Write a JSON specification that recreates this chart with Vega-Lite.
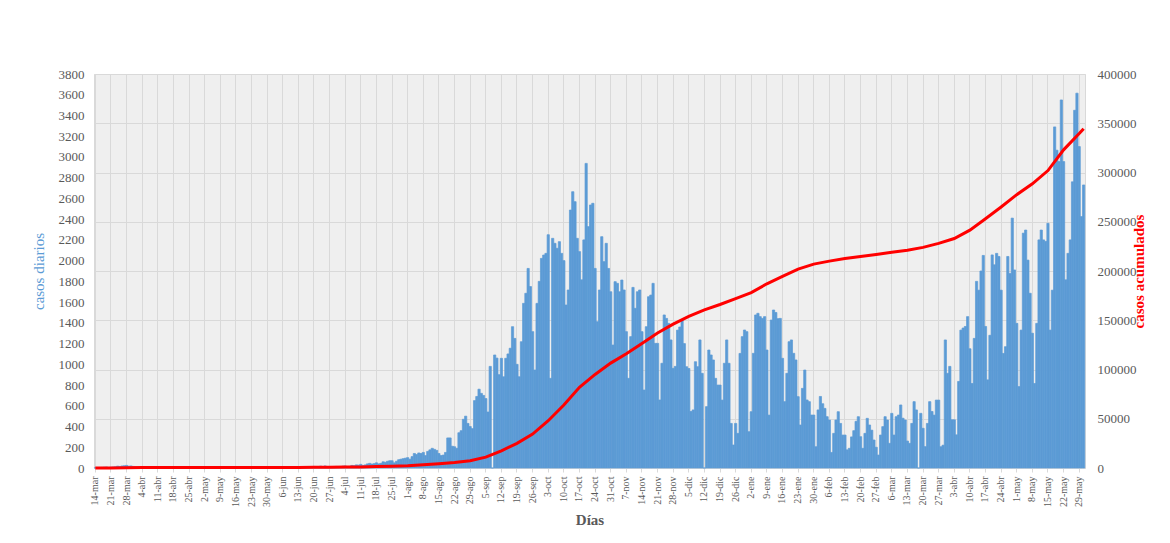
{
  "$schema": "https://vega.github.io/schema/vega-lite/v6.json",
  "width": 991,
  "height": 394,
  "autosize": {"type": "none"},
  "padding": {"left": 94, "top": 74, "right": 85, "bottom": 75},
  "background": "white",
  "config": {
    "view": {"fill": "#efefef", "stroke": "#d9d9d9", "strokeWidth": 1},
    "font": "Liberation Serif",
    "axis": {"labelFont": "Liberation Serif", "titleFont": "Liberation Serif", "labelColor": "#595959"}
  },
  "datasets": {
    "diarios": [
      {"fecha":"2020-03-14","casos":2},{"fecha":"2020-03-15","casos":3},{"fecha":"2020-03-16","casos":5},{"fecha":"2020-03-17","casos":6},{"fecha":"2020-03-18","casos":8},{"fecha":"2020-03-19","casos":10},{"fecha":"2020-03-20","casos":5},{"fecha":"2020-03-21","casos":8},{"fecha":"2020-03-22","casos":10},{"fecha":"2020-03-23","casos":12},{"fecha":"2020-03-24","casos":18},{"fecha":"2020-03-25","casos":15},{"fecha":"2020-03-26","casos":20},{"fecha":"2020-03-27","casos":22},{"fecha":"2020-03-28","casos":25},{"fecha":"2020-03-29","casos":18},{"fecha":"2020-03-30","casos":20},{"fecha":"2020-03-31","casos":15},
      {"fecha":"2020-04-01","casos":12},{"fecha":"2020-04-02","casos":10},{"fecha":"2020-04-03","casos":8},{"fecha":"2020-04-04","casos":6},{"fecha":"2020-04-05","casos":5},{"fecha":"2020-04-06","casos":8},{"fecha":"2020-04-07","casos":4},{"fecha":"2020-04-08","casos":5},{"fecha":"2020-04-09","casos":3},{"fecha":"2020-04-10","casos":4},{"fecha":"2020-04-11","casos":3},{"fecha":"2020-04-12","casos":2},{"fecha":"2020-04-13","casos":4},{"fecha":"2020-04-14","casos":3},{"fecha":"2020-04-15","casos":2},{"fecha":"2020-04-16","casos":1},{"fecha":"2020-04-17","casos":2},{"fecha":"2020-04-18","casos":1},{"fecha":"2020-04-19","casos":2},{"fecha":"2020-04-20","casos":1},{"fecha":"2020-04-21","casos":3},{"fecha":"2020-04-22","casos":2},{"fecha":"2020-04-23","casos":1},{"fecha":"2020-04-24","casos":1},{"fecha":"2020-04-25","casos":1},{"fecha":"2020-04-26","casos":0},{"fecha":"2020-04-27","casos":2},{"fecha":"2020-04-28","casos":1},{"fecha":"2020-04-29","casos":1},{"fecha":"2020-04-30","casos":0},
      {"fecha":"2020-05-01","casos":1},{"fecha":"2020-05-02","casos":0},{"fecha":"2020-05-03","casos":1},{"fecha":"2020-05-04","casos":1},{"fecha":"2020-05-05","casos":0},{"fecha":"2020-05-06","casos":2},{"fecha":"2020-05-07","casos":1},{"fecha":"2020-05-08","casos":0},{"fecha":"2020-05-09","casos":1},{"fecha":"2020-05-10","casos":0},{"fecha":"2020-05-11","casos":0},{"fecha":"2020-05-12","casos":1},{"fecha":"2020-05-13","casos":1},{"fecha":"2020-05-14","casos":2},{"fecha":"2020-05-15","casos":1},{"fecha":"2020-05-16","casos":1},{"fecha":"2020-05-17","casos":0},{"fecha":"2020-05-18","casos":1},{"fecha":"2020-05-19","casos":2},{"fecha":"2020-05-20","casos":1},{"fecha":"2020-05-21","casos":0},{"fecha":"2020-05-22","casos":1},{"fecha":"2020-05-23","casos":2},{"fecha":"2020-05-24","casos":1},{"fecha":"2020-05-25","casos":0},{"fecha":"2020-05-26","casos":1},{"fecha":"2020-05-27","casos":3},{"fecha":"2020-05-28","casos":2},{"fecha":"2020-05-29","casos":1},{"fecha":"2020-05-30","casos":1},{"fecha":"2020-05-31","casos":2},
      {"fecha":"2020-06-01","casos":3},{"fecha":"2020-06-02","casos":1},{"fecha":"2020-06-03","casos":2},{"fecha":"2020-06-04","casos":4},{"fecha":"2020-06-05","casos":3},{"fecha":"2020-06-06","casos":3},{"fecha":"2020-06-07","casos":2},{"fecha":"2020-06-08","casos":5},{"fecha":"2020-06-09","casos":4},{"fecha":"2020-06-10","casos":6},{"fecha":"2020-06-11","casos":5},{"fecha":"2020-06-12","casos":4},{"fecha":"2020-06-13","casos":6},{"fecha":"2020-06-14","casos":4},{"fecha":"2020-06-15","casos":8},{"fecha":"2020-06-16","casos":10},{"fecha":"2020-06-17","casos":7},{"fecha":"2020-06-18","casos":9},{"fecha":"2020-06-19","casos":12},{"fecha":"2020-06-20","casos":15},{"fecha":"2020-06-21","casos":10},{"fecha":"2020-06-22","casos":8},{"fecha":"2020-06-23","casos":18},{"fecha":"2020-06-24","casos":12},{"fecha":"2020-06-25","casos":20},{"fecha":"2020-06-26","casos":14},{"fecha":"2020-06-27","casos":10},{"fecha":"2020-06-28","casos":8},{"fecha":"2020-06-29","casos":12},{"fecha":"2020-06-30","casos":15},
      {"fecha":"2020-07-01","casos":10},{"fecha":"2020-07-02","casos":14},{"fecha":"2020-07-03","casos":18},{"fecha":"2020-07-04","casos":20},{"fecha":"2020-07-05","casos":12},{"fecha":"2020-07-06","casos":15},{"fecha":"2020-07-07","casos":25},{"fecha":"2020-07-08","casos":22},{"fecha":"2020-07-09","casos":30},{"fecha":"2020-07-10","casos":28},{"fecha":"2020-07-11","casos":35},{"fecha":"2020-07-12","casos":25},{"fecha":"2020-07-13","casos":30},{"fecha":"2020-07-14","casos":40},{"fecha":"2020-07-15","casos":45},{"fecha":"2020-07-16","casos":38},{"fecha":"2020-07-17","casos":42},{"fecha":"2020-07-18","casos":50},{"fecha":"2020-07-19","casos":40},{"fecha":"2020-07-20","casos":45},{"fecha":"2020-07-21","casos":60},{"fecha":"2020-07-22","casos":55},{"fecha":"2020-07-23","casos":65},{"fecha":"2020-07-24","casos":70},{"fecha":"2020-07-25","casos":70},{"fecha":"2020-07-26","casos":50},{"fecha":"2020-07-27","casos":65},{"fecha":"2020-07-28","casos":80},{"fecha":"2020-07-29","casos":85},{"fecha":"2020-07-30","casos":90},{"fecha":"2020-07-31","casos":95},
      {"fecha":"2020-08-01","casos":100},{"fecha":"2020-08-02","casos":85},{"fecha":"2020-08-03","casos":110},{"fecha":"2020-08-04","casos":140},{"fecha":"2020-08-05","casos":130},{"fecha":"2020-08-06","casos":145},{"fecha":"2020-08-07","casos":140},{"fecha":"2020-08-08","casos":150},{"fecha":"2020-08-09","casos":120},{"fecha":"2020-08-10","casos":160},{"fecha":"2020-08-11","casos":175},{"fecha":"2020-08-12","casos":190},{"fecha":"2020-08-13","casos":180},{"fecha":"2020-08-14","casos":170},{"fecha":"2020-08-15","casos":140},{"fecha":"2020-08-16","casos":120},{"fecha":"2020-08-17","casos":125},{"fecha":"2020-08-18","casos":150},{"fecha":"2020-08-19","casos":290},{"fecha":"2020-08-20","casos":290},{"fecha":"2020-08-21","casos":210},{"fecha":"2020-08-22","casos":205},{"fecha":"2020-08-23","casos":190},{"fecha":"2020-08-24","casos":340},{"fecha":"2020-08-25","casos":360},{"fecha":"2020-08-26","casos":470},{"fecha":"2020-08-27","casos":500},{"fecha":"2020-08-28","casos":430},{"fecha":"2020-08-29","casos":400},{"fecha":"2020-08-30","casos":380},{"fecha":"2020-08-31","casos":650},
      {"fecha":"2020-09-01","casos":690},{"fecha":"2020-09-02","casos":760},{"fecha":"2020-09-03","casos":720},{"fecha":"2020-09-04","casos":700},{"fecha":"2020-09-05","casos":670},{"fecha":"2020-09-06","casos":540},{"fecha":"2020-09-07","casos":980},{"fecha":"2020-09-08","casos":0},{"fecha":"2020-09-09","casos":1090},{"fecha":"2020-09-10","casos":1060},{"fecha":"2020-09-11","casos":900},{"fecha":"2020-09-12","casos":1058},{"fecha":"2020-09-13","casos":880},{"fecha":"2020-09-14","casos":1058},{"fecha":"2020-09-15","casos":1100},{"fecha":"2020-09-16","casos":1155},{"fecha":"2020-09-17","casos":1363},{"fecha":"2020-09-18","casos":1250},{"fecha":"2020-09-19","casos":1000},{"fecha":"2020-09-20","casos":880},{"fecha":"2020-09-21","casos":1218},{"fecha":"2020-09-22","casos":1588},{"fecha":"2020-09-23","casos":1685},{"fecha":"2020-09-24","casos":1925},{"fecha":"2020-09-25","casos":1750},{"fecha":"2020-09-26","casos":1315},{"fecha":"2020-09-27","casos":945},{"fecha":"2020-09-28","casos":1588},{"fecha":"2020-09-29","casos":1800},{"fecha":"2020-09-30","casos":2022},
      {"fecha":"2020-10-01","casos":2054},{"fecha":"2020-10-02","casos":2070},{"fecha":"2020-10-03","casos":2250},{"fecha":"2020-10-04","casos":865},{"fecha":"2020-10-05","casos":2215},{"fecha":"2020-10-06","casos":2167},{"fecha":"2020-10-07","casos":2119},{"fecha":"2020-10-08","casos":2183},{"fecha":"2020-10-09","casos":2070},{"fecha":"2020-10-10","casos":2000},{"fecha":"2020-10-11","casos":1572},{"fecha":"2020-10-12","casos":1717},{"fecha":"2020-10-13","casos":2488},{"fecha":"2020-10-14","casos":2665},{"fecha":"2020-10-15","casos":2569},{"fecha":"2020-10-16","casos":2215},{"fecha":"2020-10-17","casos":2087},{"fecha":"2020-10-18","casos":1815},{"fecha":"2020-10-19","casos":2200},{"fecha":"2020-10-20","casos":2938},{"fecha":"2020-10-21","casos":2328},{"fecha":"2020-10-22","casos":2537},{"fecha":"2020-10-23","casos":2553},{"fecha":"2020-10-24","casos":1925},{"fecha":"2020-10-25","casos":1411},{"fecha":"2020-10-26","casos":1717},{"fecha":"2020-10-27","casos":2231},{"fecha":"2020-10-28","casos":1990},{"fecha":"2020-10-29","casos":2167},{"fecha":"2020-10-30","casos":1925},{"fecha":"2020-10-31","casos":1700},
      {"fecha":"2020-11-01","casos":1186},{"fecha":"2020-11-02","casos":1797},{"fecha":"2020-11-03","casos":1781},{"fecha":"2020-11-04","casos":1700},{"fecha":"2020-11-05","casos":1813},{"fecha":"2020-11-06","casos":1717},{"fecha":"2020-11-07","casos":1315},{"fecha":"2020-11-08","casos":865},{"fecha":"2020-11-09","casos":1267},{"fecha":"2020-11-10","casos":1742},{"fecha":"2020-11-11","casos":1540},{"fecha":"2020-11-12","casos":1700},{"fecha":"2020-11-13","casos":1717},{"fecha":"2020-11-14","casos":1315},{"fecha":"2020-11-15","casos":752},{"fecha":"2020-11-16","casos":1363},{"fecha":"2020-11-17","casos":1652},{"fecha":"2020-11-18","casos":1668},{"fecha":"2020-11-19","casos":1781},{"fecha":"2020-11-20","casos":1202},{"fecha":"2020-11-21","casos":1202},{"fecha":"2020-11-22","casos":656},{"fecha":"2020-11-23","casos":1010},{"fecha":"2020-11-24","casos":1476},{"fecha":"2020-11-25","casos":1443},{"fecha":"2020-11-26","casos":1395},{"fecha":"2020-11-27","casos":1235},{"fecha":"2020-11-28","casos":961},{"fecha":"2020-11-29","casos":980},{"fecha":"2020-11-30","casos":1330},
      {"fecha":"2020-12-01","casos":1360},{"fecha":"2020-12-02","casos":1425},{"fecha":"2020-12-03","casos":1200},{"fecha":"2020-12-04","casos":977},{"fecha":"2020-12-05","casos":960},{"fecha":"2020-12-06","casos":545},{"fecha":"2020-12-07","casos":560},{"fecha":"2020-12-08","casos":1025},{"fecha":"2020-12-09","casos":977},{"fecha":"2020-12-10","casos":1235},{"fecha":"2020-12-11","casos":913},{"fecha":"2020-12-12","casos":0},{"fecha":"2020-12-13","casos":592},{"fecha":"2020-12-14","casos":1138},{"fecha":"2020-12-15","casos":1090},{"fecha":"2020-12-16","casos":1042},{"fecha":"2020-12-17","casos":865},{"fecha":"2020-12-18","casos":800},{"fecha":"2020-12-19","casos":800},{"fecha":"2020-12-20","casos":655},{"fecha":"2020-12-21","casos":1010},{"fecha":"2020-12-22","casos":1235},{"fecha":"2020-12-23","casos":1010},{"fecha":"2020-12-24","casos":430},{"fecha":"2020-12-25","casos":222},{"fecha":"2020-12-26","casos":430},{"fecha":"2020-12-27","casos":334},{"fecha":"2020-12-28","casos":1105},{"fecha":"2020-12-29","casos":1267},{"fecha":"2020-12-30","casos":1331},{"fecha":"2020-12-31","casos":1315},
      {"fecha":"2021-01-01","casos":350},{"fecha":"2021-01-02","casos":543},{"fecha":"2021-01-03","casos":1106},{"fecha":"2021-01-04","casos":1476},{"fecha":"2021-01-05","casos":1492},{"fecha":"2021-01-06","casos":1460},{"fecha":"2021-01-07","casos":1443},{"fecha":"2021-01-08","casos":1460},{"fecha":"2021-01-09","casos":1138},{"fecha":"2021-01-10","casos":510},{"fecha":"2021-01-11","casos":1427},{"fecha":"2021-01-12","casos":1524},{"fecha":"2021-01-13","casos":1500},{"fecha":"2021-01-14","casos":1440},{"fecha":"2021-01-15","casos":1443},{"fecha":"2021-01-16","casos":1058},{"fecha":"2021-01-17","casos":640},{"fecha":"2021-01-18","casos":913},{"fecha":"2021-01-19","casos":1218},{"fecha":"2021-01-20","casos":1235},{"fecha":"2021-01-21","casos":1106},{"fecha":"2021-01-22","casos":1042},{"fecha":"2021-01-23","casos":688},{"fecha":"2021-01-24","casos":415},{"fecha":"2021-01-25","casos":768},{"fecha":"2021-01-26","casos":945},{"fecha":"2021-01-27","casos":656},{"fecha":"2021-01-28","casos":640},{"fecha":"2021-01-29","casos":511},{"fecha":"2021-01-30","casos":511},{"fecha":"2021-01-31","casos":205},
      {"fecha":"2021-02-01","casos":560},{"fecha":"2021-02-02","casos":690},{"fecha":"2021-02-03","casos":620},{"fecha":"2021-02-04","casos":575},{"fecha":"2021-02-05","casos":495},{"fecha":"2021-02-06","casos":463},{"fecha":"2021-02-07","casos":150},{"fecha":"2021-02-08","casos":334},{"fecha":"2021-02-09","casos":463},{"fecha":"2021-02-10","casos":543},{"fecha":"2021-02-11","casos":430},{"fecha":"2021-02-12","casos":318},{"fecha":"2021-02-13","casos":318},{"fecha":"2021-02-14","casos":175},{"fecha":"2021-02-15","casos":190},{"fecha":"2021-02-16","casos":300},{"fecha":"2021-02-17","casos":360},{"fecha":"2021-02-18","casos":450},{"fecha":"2021-02-19","casos":495},{"fecha":"2021-02-20","casos":302},{"fecha":"2021-02-21","casos":190},{"fecha":"2021-02-22","casos":334},{"fecha":"2021-02-23","casos":479},{"fecha":"2021-02-24","casos":415},{"fecha":"2021-02-25","casos":365},{"fecha":"2021-02-26","casos":270},{"fecha":"2021-02-27","casos":200},{"fecha":"2021-02-28","casos":125},
      {"fecha":"2021-03-01","casos":318},{"fecha":"2021-03-02","casos":399},{"fecha":"2021-03-03","casos":495},{"fecha":"2021-03-04","casos":463},{"fecha":"2021-03-05","casos":238},{"fecha":"2021-03-06","casos":527},{"fecha":"2021-03-07","casos":318},{"fecha":"2021-03-08","casos":495},{"fecha":"2021-03-09","casos":511},{"fecha":"2021-03-10","casos":608},{"fecha":"2021-03-11","casos":480},{"fecha":"2021-03-12","casos":463},{"fecha":"2021-03-13","casos":260},{"fecha":"2021-03-14","casos":238},{"fecha":"2021-03-15","casos":430},{"fecha":"2021-03-16","casos":640},{"fecha":"2021-03-17","casos":560},{"fecha":"2021-03-18","casos":0},{"fecha":"2021-03-19","casos":527},{"fecha":"2021-03-20","casos":383},{"fecha":"2021-03-21","casos":206},{"fecha":"2021-03-22","casos":430},{"fecha":"2021-03-23","casos":640},{"fecha":"2021-03-24","casos":545},{"fecha":"2021-03-25","casos":510},{"fecha":"2021-03-26","casos":655},{"fecha":"2021-03-27","casos":655},{"fecha":"2021-03-28","casos":205},{"fecha":"2021-03-29","casos":220},{"fecha":"2021-03-30","casos":1235},{"fecha":"2021-03-31","casos":913},
      {"fecha":"2021-04-01","casos":980},{"fecha":"2021-04-02","casos":465},{"fecha":"2021-04-03","casos":465},{"fecha":"2021-04-04","casos":320},{"fecha":"2021-04-05","casos":835},{"fecha":"2021-04-06","casos":1330},{"fecha":"2021-04-07","casos":1350},{"fecha":"2021-04-08","casos":1365},{"fecha":"2021-04-09","casos":1460},{"fecha":"2021-04-10","casos":1150},{"fecha":"2021-04-11","casos":815},{"fecha":"2021-04-12","casos":1250},{"fecha":"2021-04-13","casos":1800},{"fecha":"2021-04-14","casos":1715},{"fecha":"2021-04-15","casos":1900},{"fecha":"2021-04-16","casos":2050},{"fecha":"2021-04-17","casos":1365},{"fecha":"2021-04-18","casos":850},{"fecha":"2021-04-19","casos":1280},{"fecha":"2021-04-20","casos":2055},{"fecha":"2021-04-21","casos":1960},{"fecha":"2021-04-22","casos":2070},{"fecha":"2021-04-23","casos":2040},{"fecha":"2021-04-24","casos":1715},{"fecha":"2021-04-25","casos":1105},{"fecha":"2021-04-26","casos":1170},{"fecha":"2021-04-27","casos":2040},{"fecha":"2021-04-28","casos":1875},{"fecha":"2021-04-29","casos":2410},{"fecha":"2021-04-30","casos":1910},
      {"fecha":"2021-05-01","casos":1395},{"fecha":"2021-05-02","casos":785},{"fecha":"2021-05-03","casos":1330},{"fecha":"2021-05-04","casos":2265},{"fecha":"2021-05-05","casos":2295},{"fecha":"2021-05-06","casos":2005},{"fecha":"2021-05-07","casos":1685},{"fecha":"2021-05-08","casos":1300},{"fecha":"2021-05-09","casos":815},{"fecha":"2021-05-10","casos":1395},{"fecha":"2021-05-11","casos":2200},{"fecha":"2021-05-12","casos":2295},{"fecha":"2021-05-13","casos":2200},{"fecha":"2021-05-14","casos":2185},{"fecha":"2021-05-15","casos":2360},{"fecha":"2021-05-16","casos":1330},{"fecha":"2021-05-17","casos":1715},{"fecha":"2021-05-18","casos":3290},{"fecha":"2021-05-19","casos":3065},{"fecha":"2021-05-20","casos":2955},{"fecha":"2021-05-21","casos":3550},{"fecha":"2021-05-22","casos":2955},{"fecha":"2021-05-23","casos":1815},{"fecha":"2021-05-24","casos":2070},{"fecha":"2021-05-25","casos":2200},{"fecha":"2021-05-26","casos":2760},{"fecha":"2021-05-27","casos":3450},{"fecha":"2021-05-28","casos":3615},{"fecha":"2021-05-29","casos":3100},{"fecha":"2021-05-30","casos":2425},{"fecha":"2021-05-31","casos":2730}
    ],
    "acumulados": [
      {"fecha":"2020-03-14","acumulado":20},{"fecha":"2020-03-21","acumulado":100},{"fecha":"2020-03-28","acumulado":250},{"fecha":"2020-04-04","acumulado":400},{"fecha":"2020-04-11","acumulado":450},{"fecha":"2020-04-18","acumulado":480},{"fecha":"2020-04-25","acumulado":500},{"fecha":"2020-05-02","acumulado":510},{"fecha":"2020-05-09","acumulado":520},{"fecha":"2020-05-16","acumulado":530},{"fecha":"2020-05-23","acumulado":540},{"fecha":"2020-05-30","acumulado":560},{"fecha":"2020-06-06","acumulado":580},{"fecha":"2020-06-13","acumulado":610},{"fecha":"2020-06-20","acumulado":660},{"fecha":"2020-06-27","acumulado":760},{"fecha":"2020-07-04","acumulado":900},{"fecha":"2020-07-11","acumulado":1100},{"fecha":"2020-07-18","acumulado":1400},{"fecha":"2020-07-25","acumulado":1800},{"fecha":"2020-08-01","acumulado":2300},{"fecha":"2020-08-08","acumulado":3200},{"fecha":"2020-08-15","acumulado":4300},{"fecha":"2020-08-22","acumulado":5600},{"fecha":"2020-08-29","acumulado":7300},{"fecha":"2020-09-05","acumulado":11000},{"fecha":"2020-09-12","acumulado":17500},{"fecha":"2020-09-19","acumulado":25000},{"fecha":"2020-09-26","acumulado":34500},{"fecha":"2020-10-03","acumulado":48000},{"fecha":"2020-10-10","acumulado":64000},{"fecha":"2020-10-17","acumulado":82000},{"fecha":"2020-10-24","acumulado":95000},{"fecha":"2020-10-31","acumulado":106500},{"fecha":"2020-11-07","acumulado":116000},{"fecha":"2020-11-14","acumulado":126500},{"fecha":"2020-11-21","acumulado":137000},{"fecha":"2020-11-28","acumulado":146000},{"fecha":"2020-12-05","acumulado":154000},{"fecha":"2020-12-12","acumulado":160500},{"fecha":"2020-12-19","acumulado":166000},{"fecha":"2020-12-26","acumulado":172000},{"fecha":"2021-01-02","acumulado":178000},{"fecha":"2021-01-09","acumulado":187000},{"fecha":"2021-01-16","acumulado":194500},{"fecha":"2021-01-23","acumulado":202000},{"fecha":"2021-01-30","acumulado":207000},{"fecha":"2021-02-06","acumulado":210000},{"fecha":"2021-02-13","acumulado":212700},{"fecha":"2021-02-20","acumulado":214800},{"fecha":"2021-02-27","acumulado":216800},{"fecha":"2021-03-06","acumulado":219000},{"fecha":"2021-03-13","acumulado":221000},{"fecha":"2021-03-20","acumulado":224000},{"fecha":"2021-03-27","acumulado":228000},{"fecha":"2021-04-03","acumulado":233000},{"fecha":"2021-04-10","acumulado":241500},{"fecha":"2021-04-17","acumulado":253000},{"fecha":"2021-04-24","acumulado":265000},{"fecha":"2021-05-01","acumulado":277500},{"fecha":"2021-05-08","acumulado":288500},{"fecha":"2021-05-15","acumulado":302000},{"fecha":"2021-05-22","acumulado":323000},{"fecha":"2021-05-29","acumulado":339500},{"fecha":"2021-05-31","acumulado":344500}
    ]
  },
  "layer": [
    {
      "data": {"name": "diarios"},
      "mark": {"type": "bar", "color": "#5B9BD5", "stroke": "#5B9BD5", "strokeWidth": 0.7},
      "encoding": {
        "x": {
          "field": "fecha", "type": "ordinal",
          "scale": {"paddingInner": 0, "paddingOuter": 0.1},
          "axis": {
            "title": "Días", "titleFontSize": 15, "titleFontWeight": "bold", "titleColor": "#595959", "titlePadding": 6,
            "values": ["2020-03-14","2020-03-21","2020-03-28","2020-04-04","2020-04-11","2020-04-18","2020-04-25","2020-05-02","2020-05-09","2020-05-16","2020-05-23","2020-05-30","2020-06-06","2020-06-13","2020-06-20","2020-06-27","2020-07-04","2020-07-11","2020-07-18","2020-07-25","2020-08-01","2020-08-08","2020-08-15","2020-08-22","2020-08-29","2020-09-05","2020-09-12","2020-09-19","2020-09-26","2020-10-03","2020-10-10","2020-10-17","2020-10-24","2020-10-31","2020-11-07","2020-11-14","2020-11-21","2020-11-28","2020-12-05","2020-12-12","2020-12-19","2020-12-26","2021-01-02","2021-01-09","2021-01-16","2021-01-23","2021-01-30","2021-02-06","2021-02-13","2021-02-20","2021-02-27","2021-03-06","2021-03-13","2021-03-20","2021-03-27","2021-04-03","2021-04-10","2021-04-17","2021-04-24","2021-05-01","2021-05-08","2021-05-15","2021-05-22","2021-05-29"],
            "labelExpr": "toNumber(substring(datum.value, 8, 10)) + '-' + ['ene','feb','mar','abr','may','jun','jul','ago','sep','oct','nov','dic'][toNumber(substring(datum.value, 5, 7)) - 1]",
            "labelAngle": -90, "labelFontSize": 10, "labelPadding": 4,
            "labelOverlap": false,
            "grid": true, "gridColor": "#d9d9d9", "gridWidth": 1,
            "ticks": true, "tickSize": 4, "tickColor": "#d9d9d9",
            "domain": true, "domainColor": "#d9d9d9"
          }
        },
        "y": {
          "field": "casos", "type": "quantitative",
          "scale": {"domain": [0, 3800], "nice": false},
          "axis": {
            "title": "casos diarios", "titleColor": "#5B9BD5", "titleFontSize": 15, "titleFontWeight": "normal", "titlePadding": 12,
            "values": [0,200,400,600,800,1000,1200,1400,1600,1800,2000,2200,2400,2600,2800,3000,3200,3400,3600,3800],
            "format": "d", "labelFontSize": 13, "labelPadding": 10,
            "grid": false, "ticks": false, "domain": false
          }
        }
      }
    },
    {
      "data": {"name": "acumulados"},
      "mark": {"type": "line", "color": "#FF0000", "strokeWidth": 3},
      "encoding": {
        "x": {"field": "fecha", "type": "ordinal"},
        "y": {
          "field": "acumulado", "type": "quantitative",
          "scale": {"domain": [0, 400000], "nice": false},
          "axis": {
            "orient": "right",
            "title": "casos acumulados", "titleColor": "#FF0000", "titleFontSize": 15, "titleFontWeight": "bold", "titleAngle": 270, "titlePadding": 10,
            "values": [0,50000,100000,150000,200000,250000,300000,350000,400000],
            "format": "d", "labelFontSize": 13, "labelPadding": 12,
            "grid": true, "gridColor": "#d9d9d9", "gridWidth": 1,
            "ticks": false, "domain": false
          }
        }
      }
    }
  ],
  "resolve": {"scale": {"y": "independent"}}
}
